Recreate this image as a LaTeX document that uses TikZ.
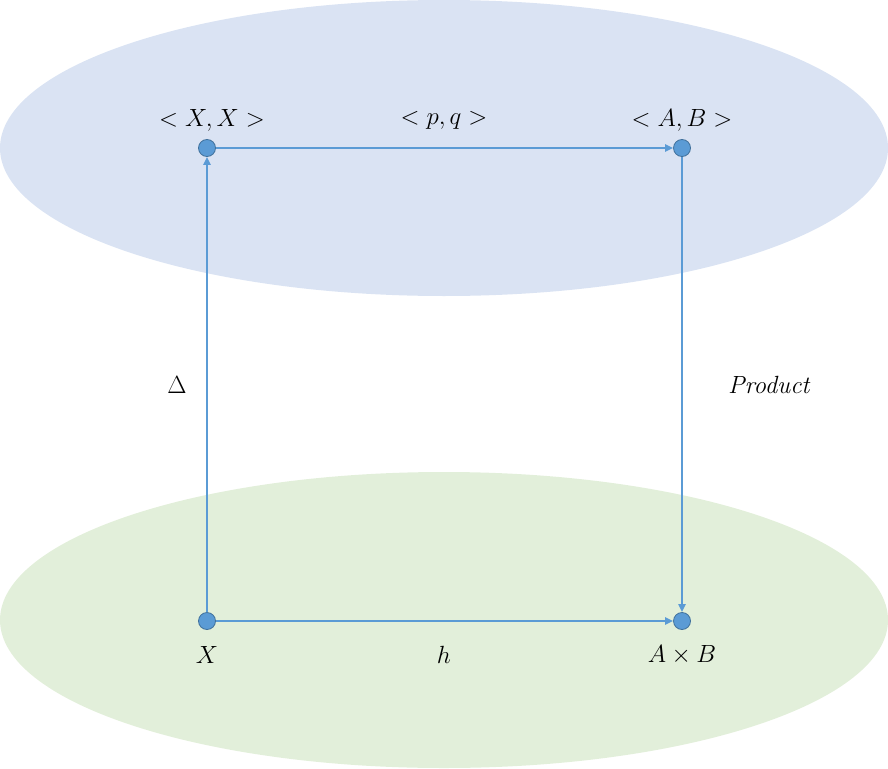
\documentclass[tikz,border=0pt]{standalone}
\usetikzlibrary{arrows.meta}
\definecolor{topfill}{HTML}{DAE3F3}
\definecolor{botfill}{HTML}{E2EFDA}
\definecolor{dotfill}{HTML}{5B9BD5}
\definecolor{dotline}{HTML}{41719C}
\begin{document}
\begin{tikzpicture}[x=1pt,y=-1pt,
  dot/.style={circle,fill=dotfill,draw=dotline,line width=0.8pt,inner sep=0pt,minimum size=17pt},
  arr/.style={draw=dotfill,line width=2pt,-{Triangle[length=8pt,width=7pt]}},
  lab/.style={font=\fontsize{26}{30}\selectfont}]
\useasboundingbox (0,0) rectangle (888,768);
\fill[topfill] (444,148) ellipse [x radius=444, y radius=148];
\fill[botfill] (444,620) ellipse [x radius=444, y radius=148];
\node[dot] (xx) at (207,148) {};
\node[dot] (ab) at (682,148) {};
\node[dot] (x) at (207,621) {};
\node[dot] (prod) at (682,621) {};
\draw[arr] (x) -- (xx);
\draw[arr] (xx) -- (ab);
\draw[arr] (ab) -- (prod);
\draw[arr] (x) -- (prod);
\node[lab] (lxx) at (212,120) {$<X,X>$};
\node[lab] (lpq) at (444,120) {$<p,q>$};
\node[lab] (lab) at (682,120) {$<A,B>$};
\node[lab] (ld) at (177,385) {$\Delta$};
\node[lab] (lp) at (770,385) {$\mathit{Product}$};
\node[lab] (lx) at (207,655) {$X$};
\node[lab] (lh) at (444,655) {$h$};
\node[lab] (lprod) at (682,655) {$A\times B$};
\end{tikzpicture}
\end{document}
